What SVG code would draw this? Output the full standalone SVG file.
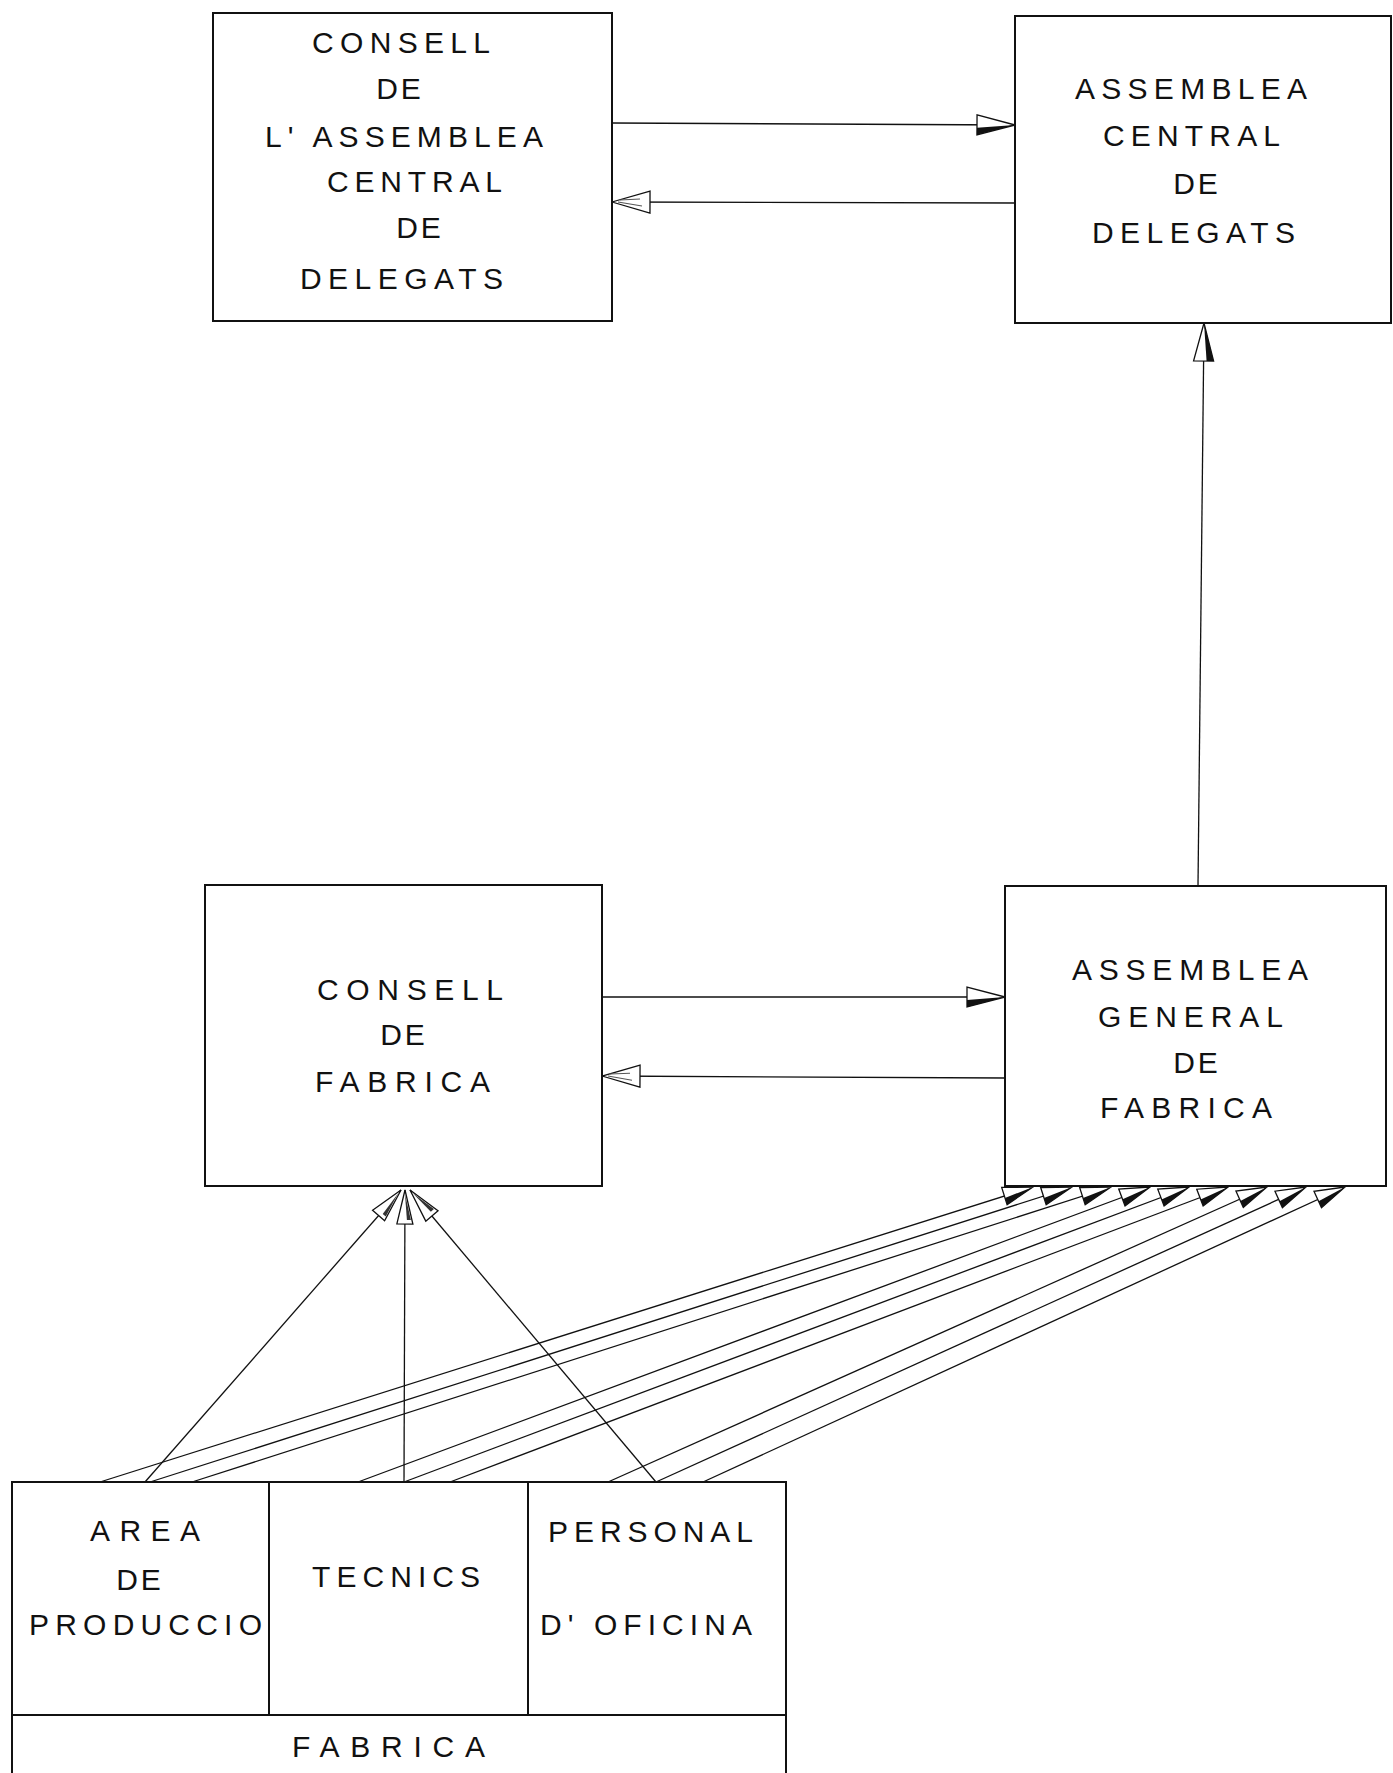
<svg xmlns="http://www.w3.org/2000/svg" width="1393" height="1773" viewBox="0 0 1393 1773">
  <style>
    .box { fill: #fff; stroke: #111; stroke-width: 2; }
    .rule { fill: none; stroke: #111; stroke-width: 2; }
    .lbl { font-family: "Liberation Sans", "DejaVu Sans", sans-serif; font-size: 30px; fill: #111; }
    .short { font-family: "Liberation Sans", "DejaVu Sans", sans-serif; font-size: 30px; fill: #111; letter-spacing: 3px; text-anchor: middle; }
    .wire { fill: none; stroke: #111; stroke-width: 1.3; }
  </style>
  <defs>
    <!-- long open head, one half shaded -->
    <marker id="head-half" viewBox="-40 -12 42 24" refX="0" refY="0" markerWidth="42" markerHeight="24" markerUnits="userSpaceOnUse" orient="auto">
      <path d="M0,0 L-38,-10 L-38,10 Z" fill="#fff" stroke="#111" stroke-width="1.3"/>
      <path d="M0,0 L-38,3 L-38,10 Z" fill="#111"/>
    </marker>
    <!-- long open head, lightly hatched -->
    <marker id="head-open" viewBox="-40 -12 42 24" refX="0" refY="0" markerWidth="42" markerHeight="24" markerUnits="userSpaceOnUse" orient="auto">
      <path d="M0,0 L-38,-11 L-38,11 Z" fill="#fff" stroke="#111" stroke-width="1.3"/>
      <path d="M-6,0 L-30,-4 M-8,2 L-28,3" stroke="#555" stroke-width="1" fill="none"/>
    </marker>
    <!-- shorter head for the fan of delegate links -->
    <marker id="head-fan" viewBox="-34 -11 36 22" refX="0" refY="0" markerWidth="36" markerHeight="22" markerUnits="userSpaceOnUse" orient="auto">
      <path d="M0,0 L-30,-9 L-30,9 Z" fill="#fff" stroke="#111" stroke-width="1.3"/>
      <path d="M0,0 L-30,2 L-30,9 Z" fill="#111"/>
    </marker>
    <!-- narrow head for links into the factory council -->
    <marker id="head-narrow" viewBox="-38 -10 40 20" refX="0" refY="0" markerWidth="40" markerHeight="20" markerUnits="userSpaceOnUse" orient="auto">
      <path d="M0,0 L-34,-8 L-34,8 Z" fill="#fff" stroke="#111" stroke-width="1.3"/>
      <path d="M-4,0 L-30,2 L-30,6 Z" fill="#333"/>
    </marker>
  </defs>

  <!-- connectors -->
  <g id="connectors">
    <line class="wire" x1="612" y1="123" x2="1015" y2="125" marker-end="url(#head-half)"/>
    <line class="wire" x1="1015" y1="203" x2="612" y2="202" marker-end="url(#head-open)"/>
    <line class="wire" x1="602" y1="997" x2="1005" y2="997" marker-end="url(#head-half)"/>
    <line class="wire" x1="1005" y1="1078" x2="602" y2="1076" marker-end="url(#head-open)"/>
    <line class="wire" x1="1198" y1="886" x2="1204" y2="323" marker-end="url(#head-half)"/>

    <!-- sections to the factory council -->
    <line class="wire" x1="145" y1="1482" x2="401" y2="1190" marker-end="url(#head-narrow)"/>
    <line class="wire" x1="404" y1="1482" x2="405" y2="1190" marker-end="url(#head-narrow)"/>
    <line class="wire" x1="656" y1="1482" x2="410" y2="1190" marker-end="url(#head-narrow)"/>

    <!-- sections to the general assembly -->
    <line class="wire" x1="100" y1="1482" x2="1033" y2="1187" marker-end="url(#head-fan)"/>
    <line class="wire" x1="150" y1="1482" x2="1072" y2="1187" marker-end="url(#head-fan)"/>
    <line class="wire" x1="192" y1="1482" x2="1111" y2="1187" marker-end="url(#head-fan)"/>
    <line class="wire" x1="358" y1="1482" x2="1150" y2="1187" marker-end="url(#head-fan)"/>
    <line class="wire" x1="404" y1="1482" x2="1189" y2="1187" marker-end="url(#head-fan)"/>
    <line class="wire" x1="450" y1="1482" x2="1228" y2="1187" marker-end="url(#head-fan)"/>
    <line class="wire" x1="608" y1="1482" x2="1267" y2="1187" marker-end="url(#head-fan)"/>
    <line class="wire" x1="656" y1="1482" x2="1306" y2="1187" marker-end="url(#head-fan)"/>
    <line class="wire" x1="703" y1="1482" x2="1345" y2="1187" marker-end="url(#head-fan)"/>
  </g>

  <!-- council of the central assembly -->
  <g id="consell-assemblea-central">
    <rect class="box" x="213" y="13" width="399" height="308"/>
    <text class="lbl" x="312" y="53" textLength="178" lengthAdjust="spacing">CONSELL</text>
    <text class="short" x="400" y="99">DE</text>
    <text class="lbl" x="265" y="147" textLength="278" lengthAdjust="spacing">L' ASSEMBLEA</text>
    <text class="lbl" x="327" y="192" textLength="175" lengthAdjust="spacing">CENTRAL</text>
    <text class="short" x="420" y="238">DE</text>
    <text class="lbl" x="300" y="289" textLength="203" lengthAdjust="spacing">DELEGATS</text>
  </g>

  <!-- central assembly of delegates -->
  <g id="assemblea-central">
    <rect class="box" x="1015" y="16" width="376" height="307"/>
    <text class="lbl" x="1075" y="99" textLength="232" lengthAdjust="spacing">ASSEMBLEA</text>
    <text class="lbl" x="1103" y="146" textLength="177" lengthAdjust="spacing">CENTRAL</text>
    <text class="short" x="1197" y="194">DE</text>
    <text class="lbl" x="1092" y="243" textLength="203" lengthAdjust="spacing">DELEGATS</text>
  </g>

  <!-- factory council -->
  <g id="consell-fabrica">
    <rect class="box" x="205" y="885" width="397" height="301"/>
    <text class="lbl" x="317" y="1000" textLength="186" lengthAdjust="spacing">CONSELL</text>
    <text class="short" x="404" y="1045">DE</text>
    <text class="lbl" x="315" y="1092" textLength="175" lengthAdjust="spacing">FABRICA</text>
  </g>

  <!-- general factory assembly -->
  <g id="assemblea-general">
    <rect class="box" x="1005" y="886" width="381" height="300"/>
    <text class="lbl" x="1072" y="980" textLength="236" lengthAdjust="spacing">ASSEMBLEA</text>
    <text class="lbl" x="1098" y="1027" textLength="185" lengthAdjust="spacing">GENERAL</text>
    <text class="short" x="1197" y="1073">DE</text>
    <text class="lbl" x="1100" y="1118" textLength="172" lengthAdjust="spacing">FABRICA</text>
  </g>

  <!-- the factory and its three sections -->
  <g id="fabrica">
    <rect class="box" x="12" y="1482" width="774" height="300"/>
    <line class="rule" x1="12" y1="1715" x2="786" y2="1715"/>
    <text class="lbl" x="292" y="1757" textLength="193" lengthAdjust="spacing">FABRICA</text>
  </g>
  <g id="area-produccio">
    <line class="rule" x1="269" y1="1482" x2="269" y2="1715"/>
    <text class="lbl" x="90" y="1541" textLength="110" lengthAdjust="spacing">AREA</text>
    <text class="short" x="140" y="1590">DE</text>
    <text class="lbl" x="29" y="1635" textLength="233" lengthAdjust="spacing">PRODUCCIO</text>
  </g>
  <g id="tecnics">
    <line class="rule" x1="528" y1="1482" x2="528" y2="1715"/>
    <text class="lbl" x="312" y="1587" textLength="168" lengthAdjust="spacing">TECNICS</text>
  </g>
  <g id="personal-oficina">
    <text class="lbl" x="548" y="1542" textLength="205" lengthAdjust="spacing">PERSONAL</text>
    <text class="lbl" x="540" y="1635" textLength="212" lengthAdjust="spacing">D' OFICINA</text>
  </g>
</svg>
